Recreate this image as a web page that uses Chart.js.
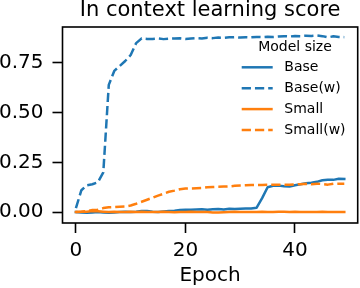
<!DOCTYPE html>
<html>
<head>
<meta charset="utf-8">
<script src="https://cdn.jsdelivr.net/npm/chart.js@4/dist/chart.umd.min.js"></script>
<style>
html,body{margin:0;padding:0;background:#fff;}
#wrap{width:360px;height:288px;}
</style>
</head>
<body>
<div id="wrap"><canvas id="c" width="360" height="288"></canvas></div>
<script>
const titleText = "In context learning score";
const xTitle = "Epoch";
const legendTitle = "Model size";
const seriesNames = ["Base", "Base(w)", "Small", "Small(w)"];
const epochs = Array.from({length: 50}, (_, i) => i);
const xTickValues = [0, 20, 40];
const yTickValues = [0, 0.25, 0.5, 0.75];

const base = [0.0, -0.002, -0.003, -0.002, 0.0, -0.002, -0.003, -0.002, 0.0, 0.002,
  0.0, 0.002, 0.005, 0.005, 0.002, 0.0, 0.003, 0.005, 0.007, 0.01,
  0.012, 0.012, 0.013, 0.014, 0.012, 0.014, 0.015, 0.013, 0.017, 0.016,
  0.017, 0.018, 0.018, 0.022, 0.07, 0.125, 0.132, 0.133, 0.13, 0.128,
  0.135, 0.14, 0.145, 0.148, 0.152, 0.16, 0.163, 0.162, 0.168, 0.167];
const baseW = [0.02, 0.11, 0.135, 0.14, 0.15, 0.2, 0.64, 0.71, 0.735, 0.76,
  0.79, 0.85, 0.874, 0.871, 0.871, 0.873, 0.87, 0.872, 0.873, 0.874,
  0.871, 0.873, 0.875, 0.873, 0.877, 0.875, 0.878, 0.877, 0.879, 0.88,
  0.878, 0.88, 0.879, 0.881, 0.88, 0.882, 0.881, 0.883, 0.885, 0.883,
  0.886, 0.885, 0.887, 0.886, 0.888, 0.885, 0.879, 0.884, 0.881, 0.88];
const small = [0.0, 0.001, 0.002, 0.005, 0.004, 0.002, 0.0, 0.001, 0.0, 0.0,
  0.001, 0.0, 0.001, 0.0, 0.0, 0.0, 0.001, 0.0, -0.001, 0.0,
  0.0, 0.001, 0.0, 0.0, 0.0, -0.002, -0.002, -0.001, 0.0, 0.001,
  0.0, 0.0, 0.0, 0.0, 0.001, 0.0, 0.0, 0.002, 0.001, 0.0,
  0.001, 0.0, 0.0, 0.0, 0.0, 0.001, 0.0, 0.0, 0.0, 0.0];
const smallW = [0.0, 0.002, 0.005, 0.01, 0.012, 0.02, 0.024, 0.025, 0.027, 0.028,
  0.033, 0.042, 0.052, 0.062, 0.072, 0.083, 0.092, 0.102, 0.108, 0.115,
  0.118, 0.119, 0.12, 0.121, 0.125, 0.126, 0.127, 0.128, 0.129, 0.132,
  0.134, 0.135, 0.136, 0.136, 0.136, 0.137, 0.138, 0.138, 0.138, 0.137,
  0.139, 0.14, 0.142, 0.14, 0.143, 0.141, 0.138, 0.142, 0.143, 0.143];

const BLUE = '#1f77b4', ORANGE = '#ff7f0e';
const LW = 2.5;
const DASH = [9.25, 4];
const FONT = "'DejaVu Sans', sans-serif";

function pts(vals){ return epochs.map((e, i) => ({x: e, y: vals[i]})); }
function ds(label, vals, color, dashed, order){
  return {label, data: pts(vals), borderColor: color, backgroundColor: color,
    borderWidth: LW, borderDash: dashed ? DASH : [], pointRadius: 0, tension: 0,
    borderCapStyle: dashed ? 'butt' : 'square', borderJoinStyle: 'round', fill: false, order};
}

Chart.defaults.color = '#000';
Chart.defaults.font.family = FONT;

const framePlugin = {
  id: 'frame',
  afterDatasetsDraw(chart){
    const a = chart.chartArea, ctx = chart.ctx;
    ctx.save();
    ctx.strokeStyle = '#000';
    ctx.lineWidth = 1.6;
    ctx.strokeRect(a.left, a.top, a.right - a.left, a.bottom - a.top);
    ctx.restore();
  }
};

const legendPlugin = {
  id: 'mplLegend',
  afterDraw(chart){
    const ctx = chart.ctx;
    ctx.save();
    ctx.font = "14px " + FONT;
    ctx.fillStyle = '#000';
    ctx.textBaseline = 'middle';
    ctx.textAlign = 'center';
    ctx.fillText(legendTitle, 295, 47);
    ctx.textAlign = 'left';
    chart.data.datasets.forEach((d, i) => {
      const y = 67.3 + i * 20.9;
      ctx.strokeStyle = d.borderColor;
      ctx.lineWidth = LW;
      ctx.setLineDash(d.borderDash);
      ctx.lineCap = 'butt';
      ctx.beginPath();
      ctx.moveTo(241.7, y);
      ctx.lineTo(272.7, y);
      ctx.stroke();
      ctx.setLineDash([]);
      ctx.fillText(d.label, 284.3, y + 0.5);
    });
    ctx.restore();
  }
};

new Chart(document.getElementById('c'), {
  type: 'line',
  data: {
    datasets: [
      ds(seriesNames[0], base, BLUE, false, 4),
      ds(seriesNames[1], baseW, BLUE, true, 3),
      ds(seriesNames[2], small, ORANGE, false, 2),
      ds(seriesNames[3], smallW, ORANGE, true, 1)
    ]
  },
  options: {
    responsive: false,
    animation: false,
    devicePixelRatio: 1,
    layout: {padding: {left: 0, right: 2.3, top: 0, bottom: 0}},
    plugins: {
      legend: {display: false},
      tooltip: {enabled: false},
      title: {
        display: true, text: titleText, fullSize: false, color: '#000',
        font: {size: 21, weight: 'normal', family: FONT, lineHeight: 1},
        padding: {top: 0.2, bottom: 5.8}
      }
    },
    scales: {
      x: {
        type: 'linear', min: -2.45, max: 51.45,
        afterBuildTicks(s){ s.ticks = xTickValues.map(v => ({value: v})); },
        afterFit(s){ s.height = 65; },
        border: {display: false},
        grid: {display: true, drawOnChartArea: false, drawTicks: true, tickLength: 10, tickWidth: 1.6, tickColor: '#000'},
        ticks: {color: '#000', font: {size: 20, family: FONT}, padding: 5.6, maxRotation: 0,
          callback: v => String(v)},
        title: {display: true, text: xTitle, color: '#000', font: {size: 20, family: FONT, lineHeight: 1.2}, padding: {top: 0, bottom: 0}}
      },
      y: {
        type: 'linear', min: -0.055, max: 0.931,
        afterBuildTicks(s){ s.ticks = yTickValues.map(v => ({value: v})); },
        afterFit(s){ s.width = 62.5; },
        border: {display: false},
        grid: {display: true, drawOnChartArea: false, drawTicks: true, tickLength: 10, tickWidth: 1.6, tickColor: '#000'},
        ticks: {color: '#000', font: {size: 20, family: FONT}, padding: 9,
          callback: v => Number(v).toFixed(2)}
      }
    }
  },
  plugins: [framePlugin, legendPlugin]
});
</script>
</body>
</html>
